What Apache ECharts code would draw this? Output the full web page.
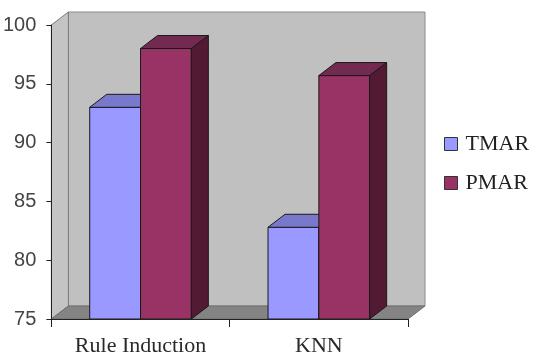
<!DOCTYPE html>
<html>
<head>
<meta charset="utf-8">
<script src="https://cdn.jsdelivr.net/npm/echarts@6/dist/echarts.min.js"></script>
<style>
  html, body { margin: 0; padding: 0; background: #fff; }
  #chart { width: 540px; height: 360px; }
</style>
</head>
<body>
<div id="chart"></div>
<script>
var categories = ["Rule Induction", "KNN"];
var tmarValues = [93.0, 82.8];
var pmarValues = [98.0, 95.7];
var yTicks = [75, 80, 85, 90, 95, 100];

var yMin = yTicks[0];
var yMax = yTicks[yTicks.length - 1];
// depth of the fake 3d
var DX = 17, DY = -13;
var barFrac = 0.285;

var myChart = echarts.init(document.getElementById("chart"));

function toData(vals) {
  return vals.map(function (v, i) { return [i, v]; });
}

function wallItem(params, api) {
  var cs = params.coordSys;
  var l = cs.x, t = cs.y, r = cs.x + cs.width, b = cs.y + cs.height;
  return {
    type: "group",
    children: [
      // back wall
      { type: "rect", shape: { x: l + DX, y: t + DY, width: cs.width, height: cs.height },
        style: { fill: "#c0c0c0", stroke: "#8c8c8c", lineWidth: 1 } },
      // left wall
      { type: "polygon", shape: { points: [[l, t], [l + DX, t + DY], [l + DX, b + DY], [l, b]] },
        style: { fill: "#c4c4c4", stroke: "#7a7a7a", lineWidth: 1 } },
      // floor
      { type: "polygon", shape: { points: [[l, b], [l + DX, b + DY], [r + DX, b + DY], [r, b]] },
        style: { fill: "#848484", stroke: "#6e6e6e", lineWidth: 1 } }
    ]
  };
}

function barRenderer(side, colors) {
  return function (params, api) {
    var cat = api.value(0);
    var top = api.coord([cat, api.value(1)]);
    var base = api.coord([cat, yMin]);
    var w = api.size([1, 0])[0] * barFrac;
    var x0 = side === 0 ? top[0] - w : top[0];
    var x1 = x0 + w;
    var yt = top[1], yb = base[1];
    var st = { stroke: "#1a1a1a", lineWidth: 1 };
    return {
      type: "group",
      children: [
        { type: "rect", shape: { x: x0, y: yt, width: w, height: yb - yt },
          style: Object.assign({ fill: colors[0] }, st) },
        { type: "polygon", shape: { points: [[x0, yt], [x0 + DX, yt + DY], [x1 + DX, yt + DY], [x1, yt]] },
          style: Object.assign({ fill: colors[1] }, st) },
        { type: "polygon", shape: { points: [[x1, yt], [x1 + DX, yt + DY], [x1 + DX, yb + DY], [x1, yb]] },
          style: Object.assign({ fill: colors[2] }, st) }
      ]
    };
  };
}

var option = {
  animation: false,
  backgroundColor: "#fff",
  grid: { left: 47, right: 132, top: 25, bottom: 41 },
  legend: {
    orient: "vertical",
    left: 439,
    top: 128,
    itemWidth: 13,
    itemHeight: 13,
    itemGap: 17,
    icon: "rect",
    textStyle: { fontFamily: "Liberation Serif", fontSize: 22, lineHeight: 22, color: "#222", padding: [0, 0, 0, 3] },
    data: [
      { name: "TMAR", itemStyle: { color: "#9999ff", borderColor: "#333", borderWidth: 1 } },
      { name: "PMAR", itemStyle: { color: "#993366", borderColor: "#333", borderWidth: 1 } }
    ]
  },
  xAxis: {
    type: "category",
    data: categories,
    z: 5,
    axisLine: { lineStyle: { color: "#222", width: 1 } },
    axisTick: { show: true, length: 8, lineStyle: { color: "#222" } },
    axisLabel: { fontFamily: "Liberation Serif", fontSize: 22, color: "#2a2a2a", margin: 16 }
  },
  yAxis: {
    type: "value",
    min: yMin,
    max: yMax,
    interval: 5,
    z: 5,
    axisLine: { show: true, lineStyle: { color: "#222", width: 1 } },
    axisTick: { show: true, length: 5, lineStyle: { color: "#222" } },
    splitLine: { show: false },
    axisLabel: { fontFamily: "Liberation Sans", fontSize: 20, color: "#444", margin: 15 }
  },
  series: [
    {
      type: "custom",
      name: "walls",
      z: 1,
      silent: true,
      renderItem: wallItem,
      data: [[0, yMin]]
    },
    {
      type: "custom",
      name: "TMAR",
      z: 2,
      itemStyle: { color: "#9999ff" },
      renderItem: barRenderer(0, ["#9999ff", "#7878cc", "#5c5c99"]),
      data: toData(tmarValues)
    },
    {
      type: "custom",
      name: "PMAR",
      z: 3,
      itemStyle: { color: "#993366" },
      renderItem: barRenderer(1, ["#993366", "#732a50", "#521a33"]),
      data: toData(pmarValues)
    }
  ]
};

myChart.setOption(option);
</script>
</body>
</html>
